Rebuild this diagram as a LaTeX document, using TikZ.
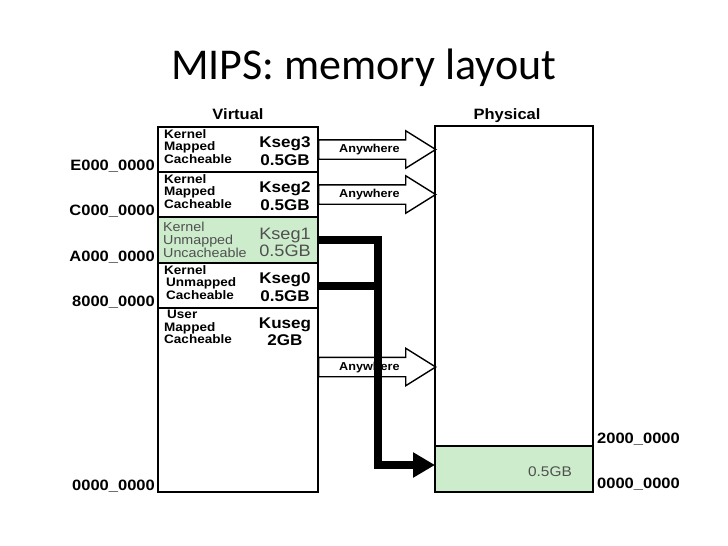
\documentclass[tikz,border=0pt]{standalone}
\usepackage{fontspec}
\usetikzlibrary{positioning,shapes.arrows,arrows.meta}
\newfontfamily\diagfont[FakeStretch=1.1]{Liberation Sans}
\newfontfamily\titlefont{Carlito}
\definecolor{lowgreen}{RGB}{204,236,204}
\definecolor{dimtext}{RGB}{80,80,80}
\begin{document}
\begin{tikzpicture}[x=1pt,y=-1pt,
    seg/.style={draw,line width=1.8pt,minimum width=160pt,inner sep=0pt,outer sep=0pt},
    attr/.style={anchor=north west,inner sep=0pt,align=left,font=\diagfont\bfseries\fontsize{12.3}{12.5}\selectfont},
    sname/.style={anchor=north,inner sep=0pt,align=center,font=\diagfont\bfseries\fontsize{15.5}{17.5}\selectfont},
    addr/.style={anchor=base east,inner sep=0pt,font=\diagfont\bfseries\fontsize{15}{18}\selectfont},
    anywhere/.style={single arrow,draw,fill=white,line width=1.4pt,minimum height=117pt,minimum width=36pt,
        single arrow head extend=9pt,single arrow tip angle=64,inner xsep=2pt,inner ysep=4pt,
        text height=8pt,text depth=2pt,anchor=tail,font=\diagfont\bfseries\fontsize{11.5}{12}\selectfont},
    mapline/.style={line width=8pt}]
    \useasboundingbox (0,0) rectangle (728,546);
    \node[font=\titlefont\fontsize{44}{50}\selectfont,anchor=base,inner sep=0pt] (title) at (363.5,79) {MIPS: memory layout};
    % virtual side
    \node[seg,minimum height=45pt,anchor=north west] (k3) at (158,127) {};
    \node[seg,minimum height=45pt,below=0pt of k3] (k2) {};
    \node[seg,minimum height=46pt,fill=lowgreen,below=0pt of k2] (k1) {};
    \node[seg,minimum height=45pt,below=0pt of k1] (k0) {};
    \node[seg,minimum height=184pt,below=0pt of k0] (kus) {};
    \node[addr,anchor=base] (vlabel) at ([yshift=8pt]k3.north) {Virtual};
    \node[attr] (k3a) at ([xshift=6pt,yshift=-2pt]k3.north west) {Kernel\\Mapped\\Cacheable};
    \node[sname] (k3n) at ([xshift=-33pt,yshift=-9.5pt]k3.north east) {Kseg3\\0.5GB};
    \node[attr] (k2a) at ([xshift=6pt,yshift=-2pt]k2.north west) {Kernel\\Mapped\\Cacheable};
    \node[sname] (k2n) at ([xshift=-33pt,yshift=-9.5pt]k2.north east) {Kseg2\\0.5GB};
    \node[attr,font=\diagfont\fontsize{13}{13}\selectfont,text=dimtext] (k1a) at ([xshift=5pt,yshift=-4.5pt]k1.north west) {Kernel\\Unmapped\\Uncacheable};
    \node[sname,font=\diagfont\fontsize{16.5}{17}\selectfont,text=dimtext] (k1n) at ([xshift=-33pt,yshift=-11pt]k1.north east) {Kseg1\\0.5GB};
    \node[attr] (k0a) at ([xshift=6pt,yshift=-2pt]k0.north west) {Kernel\\\hspace*{2pt}Unmapped\\\hspace*{2pt}Cacheable};
    \node[sname] (k0n) at ([xshift=-33pt,yshift=-9.5pt]k0.north east) {Kseg0\\0.5GB};
    \node[attr] (kusa) at ([xshift=6pt,yshift=-2pt]kus.north west) {\hspace*{3pt}User\\Mapped\\Cacheable};
    \node[sname] (kusn) at ([xshift=-33pt,yshift=-9.5pt]kus.north east) {Kuseg\\2GB};
    \node[addr] (e000) at ([xshift=-3pt,yshift=2pt]k3.south west) {E000\_0000};
    \node[addr] (c000) at ([xshift=-3pt,yshift=2pt]k2.south west) {C000\_0000};
    \node[addr] (a000) at ([xshift=-3pt,yshift=2pt]k1.south west) {A000\_0000};
    \node[addr] (v8000) at ([xshift=-3pt,yshift=2pt]k0.south west) {8000\_0000};
    \node[addr] (v0000) at ([xshift=-3pt,yshift=2pt]kus.south west) {0000\_0000};
    % physical side
    \node[seg,minimum width=158pt,minimum height=320pt,anchor=north west] (phys) at (435,126) {};
    \node[seg,minimum width=158pt,minimum height=46pt,fill=lowgreen,below=0pt of phys] (plow) {};
    \node[addr,anchor=base] (plabel) at ([xshift=-7pt,yshift=7pt]phys.north) {Physical};
    \node[anchor=base east,inner sep=0pt,font=\diagfont\fontsize{14}{14}\selectfont,text=dimtext] (plowsize) at ([xshift=-21pt,yshift=-7pt]plow.east) {0.5GB};
    \node[addr,anchor=base west] (p2000) at ([xshift=4pt,yshift=3pt]plow.north east) {2000\_0000};
    \node[addr,anchor=base west] (p0000) at ([xshift=4pt,yshift=4pt]plow.south east) {0000\_0000};
    % mappings
    \node[anywhere] (any3) at (k3.east) {Anywhere};
    \node[anywhere] (any2) at (k2.east) {Anywhere};
    \node[anywhere] (anyu) at ([yshift=33pt]kus.east) {Anywhere};
    \coordinate (bus) at (378,0);
    \coordinate (land) at ([yshift=4pt]plow.west);
    \draw[mapline,-{Triangle[length=22pt,width=24pt]}] (k1.east) -| (bus |- land) -- (land);
    \draw[mapline] (k0.east) -- (bus |- k0.east);
\end{tikzpicture}
\end{document}
